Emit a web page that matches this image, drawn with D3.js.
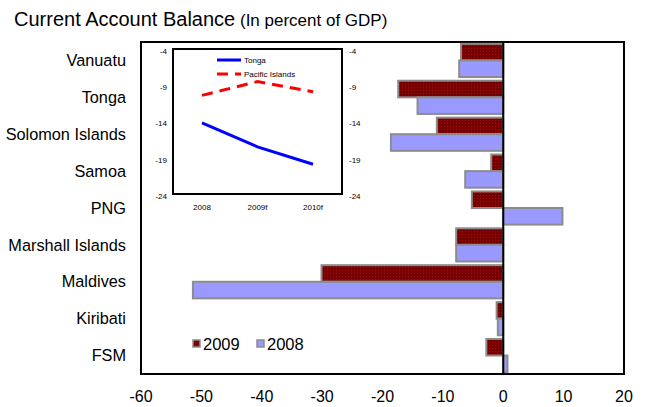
<!DOCTYPE html>
<html><head><meta charset="utf-8">
<script src="https://cdn.jsdelivr.net/npm/d3@7"></script>
<style>body{margin:0;background:#fff}svg{display:block;font-family:"Liberation Sans",Arial,sans-serif}</style>
</head><body><svg id="c" width="647" height="407"></svg>
<script>
const categories = ["Vanuatu","Tonga","Solomon Islands","Samoa","PNG","Marshall Islands","Maldives","Kiribati","FSM"];
const values2009 = [-7.0,-17.4,-11.0,-2.0,-5.2,-7.8,-30.1,-1.1,-2.8];
const values2008 = [-7.3,-14.2,-18.6,-6.3,9.8,-7.8,-51.4,-0.9,0.7];
const xTicks = [-60,-50,-40,-30,-20,-10,0,10,20];
const insetYears = ["2008","2009f","2010f"];
const insetTonga = [-14.2,-17.5,-19.9];
const insetPacific = [-10.4,-8.5,-9.9];
const insetTicks = [-4,-9,-14,-19,-24];

const svg = d3.select("#c");
const L=141,R=624,T=42,B=374;
const x = d3.scaleLinear().domain([-60,20]).range([L,R]);
const y = d3.scaleBand().domain(categories).range([T,B]).paddingInner(0.1).paddingOuter(0.05);

const defs = svg.append("defs");
const pat = defs.append("pattern").attr("id","hatch").attr("patternUnits","userSpaceOnUse").attr("width",3).attr("height",3);
pat.append("rect").attr("width",3).attr("height",3).attr("fill","#7a0000");
pat.append("rect").attr("x",0).attr("y",0).attr("width",1).attr("height",1).attr("fill","#9a1010");
pat.append("rect").attr("x",1.5).attr("y",1.5).attr("width",1).attr("height",1).attr("fill","#600000");

const title = svg.append("text").attr("x",14).attr("y",26).attr("fill","#000");
title.append("tspan").attr("font-size",20).text("Current Account Balance");
title.append("tspan").attr("font-size",17).text(" (In percent of GDP)");

svg.append("rect").attr("x",L).attr("y",T).attr("width",R-L).attr("height",B-T).attr("fill","none").attr("stroke","#000").attr("stroke-width",2);

const bh = y.bandwidth()/2;
const g = svg.append("g");
g.selectAll(".b9").data(categories).join("rect")
  .attr("x",(d,i)=>x(Math.min(0,values2009[i])))
  .attr("y",d=>y(d))
  .attr("width",(d,i)=>Math.abs(x(values2009[i])-x(0)))
  .attr("height",bh)
  .attr("fill","url(#hatch)").attr("stroke","#8c8c8c").attr("stroke-width",2);
g.selectAll(".b8").data(categories).join("rect")
  .attr("x",(d,i)=>x(Math.min(0,values2008[i])))
  .attr("y",d=>y(d)+bh)
  .attr("width",(d,i)=>Math.abs(x(values2008[i])-x(0)))
  .attr("height",bh)
  .attr("fill","#9999ff").attr("stroke","#8c8c8c").attr("stroke-width",2);

svg.append("line").attr("x1",x(0)).attr("x2",x(0)).attr("y1",T).attr("y2",B).attr("stroke","#000").attr("stroke-width",2);

svg.selectAll(".cat").data(categories).join("text")
  .attr("x",126).attr("y",d=>y(d)+y.bandwidth()/2).attr("dy","0.35em")
  .attr("text-anchor","end").attr("font-size",16.3).text(d=>d);

svg.selectAll(".xt").data(xTicks).join("text")
  .attr("x",d=>x(d)).attr("y",396).attr("dy","0.35em")
  .attr("text-anchor","middle").attr("font-size",16).text(d=>d);

const leg = [{k:"2009",f:"url(#hatch)",x:192},{k:"2008",f:"#9999ff",x:256}];
leg.forEach(l=>{
  svg.append("rect").attr("x",l.x+1).attr("y",340).attr("width",7).attr("height",7).attr("fill",l.f).attr("stroke","#8c8c8c").attr("stroke-width",1.5);
  svg.append("text").attr("x",l.x+11).attr("y",344).attr("dy","0.35em").attr("font-size",16.5).text(l.k);
});

const iL=173,iR=342,iT=49,iB=194;
const ix = d3.scalePoint().domain(insetYears).range([202,313]);
const iy = d3.scaleLinear().domain([-24,-4]).range([iB,iT]);
svg.append("rect").attr("x",iL).attr("y",iT).attr("width",iR-iL).attr("height",iB-iT).attr("fill","#fff").attr("stroke","#000").attr("stroke-width",2);
svg.selectAll(".iyl").data(insetTicks).join("text")
  .attr("x",167).attr("y",d=>iy(d)+2).attr("dy","0.35em").attr("text-anchor","end").attr("font-size",8).text(d=>d);
svg.selectAll(".iyr").data(insetTicks).join("text")
  .attr("x",349).attr("y",d=>iy(d)+2).attr("dy","0.35em").attr("text-anchor","start").attr("font-size",8).text(d=>d);
svg.selectAll(".ixl").data(insetYears).join("text")
  .attr("x",d=>ix(d)).attr("y",207).attr("dy","0.35em").attr("text-anchor","middle").attr("font-size",8).text(d=>d);
const line = d3.line().x((d,i)=>ix(insetYears[i])).y(d=>iy(d));
svg.append("path").attr("d",line(insetTonga)).attr("fill","none").attr("stroke","#0000ff").attr("stroke-width",3);
svg.append("path").attr("d",line(insetPacific)).attr("fill","none").attr("stroke","#ff0000").attr("stroke-width",3).attr("stroke-dasharray","11,7");
svg.append("line").attr("x1",217).attr("x2",241).attr("y1",60).attr("y2",60).attr("stroke","#0000ff").attr("stroke-width",3);
svg.append("text").attr("x",244).attr("y",60).attr("dy","0.35em").attr("font-size",8).text("Tonga");
svg.append("line").attr("x1",217).attr("x2",241).attr("y1",74).attr("y2",74).attr("stroke","#ff0000").attr("stroke-width",3).attr("stroke-dasharray","11,7");
svg.append("text").attr("x",244).attr("y",74).attr("dy","0.35em").attr("font-size",8).text("Pacific Islands");
</script></body></html>
